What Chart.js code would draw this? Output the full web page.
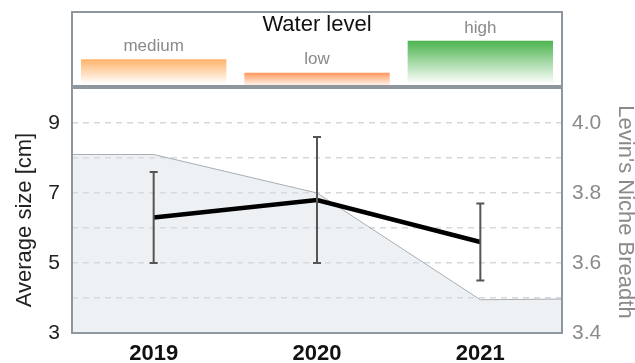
<!DOCTYPE html>
<html>
<head>
<meta charset="utf-8">
<script src="https://cdn.jsdelivr.net/npm/chart.js@4/dist/chart.umd.min.js"></script>
<style>
  html, body { margin: 0; padding: 0; background: #fff; }
  #wrap { position: relative; width: 635px; height: 363px; }
  canvas { position: absolute; left: 0; top: 0; }
</style>
</head>
<body>
<div id="wrap">
  <canvas id="main" width="635" height="363"></canvas>
  <canvas id="water" width="635" height="363"></canvas>
</div>
<script>
// Water level per year (relative bar height)
const waterCategories = ['medium', 'low', 'high'];
const waterHeight = [3.6, 1.8, 6.1];

// Average size per year, with error bar limits
const years = [2019, 2020, 2021];
const avgSize = [6.3, 6.8, 5.6];
const sizeLow = [5.0, 5.0, 4.5];
const sizeHigh = [7.6, 8.6, 6.7];

// Levin's niche breadth, extended to the plot edges
const breadthX = [2018.5, 2019, 2020, 2021, 2021.5];
const breadthY = [3.91, 3.91, 3.80, 3.495, 3.497];

const FONT = "'Liberation Sans', Arial, Helvetica, sans-serif";
const BOX = '#8f979e';

function strokeBox(chart) {
  const a = chart.chartArea, ctx = chart.ctx;
  ctx.save();
  ctx.strokeStyle = BOX;
  ctx.lineWidth = 2;
  ctx.strokeRect(a.left, a.top, a.right - a.left, a.bottom - a.top);
  ctx.restore();
}

// ---- Water level panel ----
const barTop = ['#ffb36b', '#ff9558', '#4db44f'];
const barBottom = ['rgba(255,255,255,1)', 'rgba(255,236,222,1)', 'rgba(255,255,255,1)'];

const waterPlugin = {
  id: 'waterDecor',
  afterDatasetsDraw(chart) {
    const ctx = chart.ctx;
    const meta = chart.getDatasetMeta(0);
    ctx.save();
    ctx.fillStyle = '#8a8a8a';
    ctx.font = '17px ' + FONT;
    ctx.textAlign = 'center';
    ctx.textBaseline = 'middle';
    meta.data.forEach((bar, i) => {
      ctx.fillText(waterCategories[i], bar.x, bar.y - 13);
    });
    ctx.fillStyle = '#111';
    ctx.font = '22px ' + FONT;
    ctx.fillText('Water level', (chart.chartArea.left + chart.chartArea.right) / 2, 25);
    ctx.restore();
    strokeBox(chart);
  }
};

new Chart(document.getElementById('water'), {
  type: 'bar',
  data: {
    labels: waterCategories,
    datasets: [{
      data: waterHeight,
      borderWidth: 0,
      categoryPercentage: 1,
      barPercentage: 0.89,
      backgroundColor(c) {
        const chart = c.chart;
        const area = chart.chartArea;
        if (!area) return barTop[c.dataIndex];
        const yTop = chart.scales.y.getPixelForValue(waterHeight[c.dataIndex]);
        const g = chart.ctx.createLinearGradient(0, yTop, 0, area.bottom - 2);
        g.addColorStop(0, barTop[c.dataIndex]);
        g.addColorStop(1, barBottom[c.dataIndex]);
        return g;
      }
    }]
  },
  options: {
    responsive: false,
    animation: false,
    devicePixelRatio: 1,
    layout: { padding: { left: 72, right: 73, top: 12, bottom: 277 } },
    plugins: { legend: { display: false }, tooltip: { enabled: false } },
    scales: {
      x: { display: false },
      y: { display: false, min: 0, max: 10 }
    }
  },
  plugins: [waterPlugin]
});

// ---- Main panel ----
const errorBarPlugin = {
  id: 'errorBars',
  afterDatasetsDraw(chart) {
    const ctx = chart.ctx, xs = chart.scales.x, ys = chart.scales.y;
    ctx.save();
    ctx.strokeStyle = '#555';
    ctx.lineWidth = 2;
    years.forEach((yr, i) => {
      const x = xs.getPixelForValue(yr);
      const y0 = ys.getPixelForValue(sizeLow[i]);
      const y1 = ys.getPixelForValue(sizeHigh[i]);
      ctx.beginPath();
      ctx.moveTo(x, y0); ctx.lineTo(x, y1);
      ctx.moveTo(x - 4, y0); ctx.lineTo(x + 4, y0);
      ctx.moveTo(x - 4, y1); ctx.lineTo(x + 4, y1);
      ctx.stroke();
    });
    ctx.restore();
    strokeBox(chart);
    // axis titles
    ctx.save();
    ctx.font = '22px ' + FONT;
    ctx.textAlign = 'center';
    ctx.textBaseline = 'middle';
    ctx.fillStyle = '#222';
    ctx.translate(25, 220);
    ctx.rotate(-Math.PI / 2);
    ctx.fillText('Average size [cm]', 0, 0);
    ctx.restore();
    ctx.save();
    ctx.font = '22px ' + FONT;
    ctx.textAlign = 'center';
    ctx.textBaseline = 'middle';
    ctx.fillStyle = '#8a8a8a';
    ctx.translate(625, 212);
    ctx.rotate(Math.PI / 2);
    ctx.fillText("Levin's Niche Breadth", 0, 0);
    ctx.restore();
  }
};

new Chart(document.getElementById('main'), {
  type: 'line',
  data: {
    datasets: [
      {
        label: 'Average size',
        data: years.map((x, i) => ({ x, y: avgSize[i] })),
        yAxisID: 'y',
        borderColor: '#000',
        borderWidth: 4.5,
        pointRadius: 0,
        fill: false,
        tension: 0,
        order: 0
      },
      {
        label: "Levin's Niche Breadth",
        data: breadthX.map((x, i) => ({ x, y: breadthY[i] })),
        yAxisID: 'y2',
        borderColor: '#a7aeb4',
        borderWidth: 1,
        backgroundColor: 'rgba(214,222,226,0.42)',
        pointRadius: 0,
        fill: 'start',
        tension: 0,
        order: 1
      }
    ]
  },
  options: {
    responsive: false,
    animation: false,
    devicePixelRatio: 1,
    layout: { padding: { left: 0, right: 0, top: 88, bottom: 0 } },
    plugins: { legend: { display: false }, tooltip: { enabled: false } },
    scales: {
      x: {
        type: 'linear',
        min: 2018.5,
        max: 2021.5,
        afterBuildTicks(scale) { scale.ticks = years.map(v => ({ value: v })); },
        afterFit(scale) { scale.height = 30; },
        grid: { display: false, drawTicks: false },
        border: { display: false },
        ticks: {
          padding: 8,
          color: '#111',
          font: { family: FONT, size: 22, weight: 'bold' },
          callback: v => String(v)
        }
      },
      y: {
        position: 'left',
        min: 3,
        max: 10,
        afterFit(scale) { scale.width = 72; },
        border: { display: false, dash: [6, 5] },
        grid: {
          drawTicks: false,
          color: c => (c.tick.value <= 3 || c.tick.value >= 10) ? 'rgba(0,0,0,0)' : '#d4d8db',
          lineWidth: 1.5
        },
        ticks: {
          stepSize: 1,
          padding: 12,
          color: '#222',
          font: { family: FONT, size: 21 },
          callback: v => (v % 2 === 1) ? String(v) : ''
        }
      },
      y2: {
        position: 'right',
        min: 3.4,
        max: 4.1,
        afterFit(scale) { scale.width = 73; },
        border: { display: false },
        grid: { display: false, drawTicks: false },
        ticks: {
          stepSize: 0.1,
          padding: 10,
          color: '#8a8a8a',
          font: { family: FONT, size: 21 },
          callback: v => {
            const r = Math.round(v * 10);
            return (r % 2 === 0 && r <= 40) ? (r / 10).toFixed(1) : '';
          }
        }
      }
    }
  },
  plugins: [errorBarPlugin]
});
</script>
</body>
</html>
